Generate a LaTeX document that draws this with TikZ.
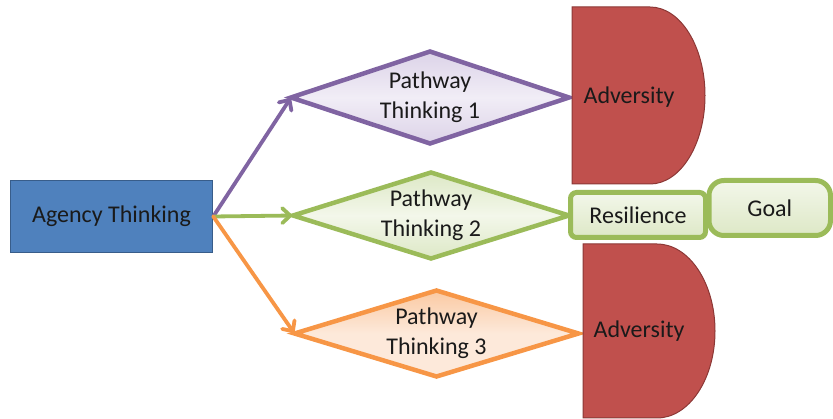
\documentclass[tikz,border=0pt]{standalone}
\usepackage{fontspec}
\setmainfont{Carlito}
\usetikzlibrary{shapes.geometric,arrows.meta}

\definecolor{agencyfill}{HTML}{4F81BD}
\definecolor{agencyline}{HTML}{385D8A}
\definecolor{purpleline}{HTML}{8064A2}
\definecolor{purplelight}{HTML}{F1EDF6}
\definecolor{purplemid}{HTML}{DCD3E8}
\definecolor{greenline}{HTML}{9BBB59}
\definecolor{greenlight}{HTML}{F3F7EA}
\definecolor{greenmid}{HTML}{DDE8C6}
\definecolor{orangeline}{HTML}{F79646}
\definecolor{orangelight}{HTML}{FDE9DA}
\definecolor{orangemid}{HTML}{FAC9A2}
\definecolor{advfill}{HTML}{C0504D}
\definecolor{advline}{HTML}{8C3836}
\definecolor{textdark}{HTML}{1A1A1A}

\tikzset{
  label font/.style={font=\fontsize{24}{30}\selectfont, text=textdark},
  agencybox/.style={draw=agencyline, line width=1.5pt, fill=agencyfill,
    minimum width=202pt, minimum height=72pt, inner sep=0pt, label font},
  pathdiamond/.style={diamond, aspect=3, inner sep=0pt, outer sep=0pt,
    line width=4.5pt, align=center, label font},
  adversity/.style={draw=advline, line width=1pt, fill=advfill},
  greenbox/.style={draw=greenline, line width=5pt, top color=greenlight,
    bottom color=greenmid, inner sep=0pt, label font},
  conn/.style={line width=3.8pt, line cap=round,
    -{Straight Barb[length=8pt,width=15pt,line cap=round]}},
}

\begin{document}
\begin{tikzpicture}[x=1pt,y=-1pt]
\useasboundingbox (0,0) rectangle (833,419);

% starting box
\node[agencybox] (agency) at (111.5,216.5) {Agency Thinking};

% three pathway diamonds
\node[pathdiamond, draw=purpleline, top color=purplemid, bottom color=purplemid,
  middle color=purplelight, minimum width=278pt, minimum height=92pt]
  (p1) at (430,97.5) {Pathway\\Thinking 1};
\node[pathdiamond, draw=greenline, top color=greenmid, bottom color=greenmid,
  middle color=greenlight, minimum width=276pt, minimum height=86pt]
  (p2) at (431,215.5) {Pathway\\Thinking 2};
\node[pathdiamond, draw=orangeline, top color=orangemid, bottom color=orangelight,
  middle color=orangelight, minimum width=284pt, minimum height=86pt]
  (p3) at (436.5,333.5) {Pathway\\Thinking 3};

% adversity blocks (D shapes)
\draw[adversity] (572,7) -- (650,7)
  arc[start angle=-90, end angle=90, x radius=55, y radius=88.5]
  -- (572,184) -- cycle;
\node[label font] (adv1) at (629,97) {Adversity};

\draw[adversity] (583,244) -- (657,244)
  arc[start angle=-90, end angle=90, x radius=58, y radius=87]
  -- (583,418) -- cycle;
\node[label font] (adv2) at (639,331) {Adversity};

% resilience and goal
\node[greenbox, rounded corners=6pt, minimum width=135pt, minimum height=45pt]
  (res) at (638,215) {Resilience};
\node[greenbox, rounded corners=15pt, minimum width=121.5pt, minimum height=55pt]
  (goal) at (769.75,208) {Goal};

% connectors from agency to each pathway
\draw[conn, purpleline] (agency.east) -- (p1.west);
\draw[conn, greenline] (agency.east) -- (p2.west);
\draw[conn, orangeline] (agency.east) -- (p3.west);
\end{tikzpicture}
\end{document}
